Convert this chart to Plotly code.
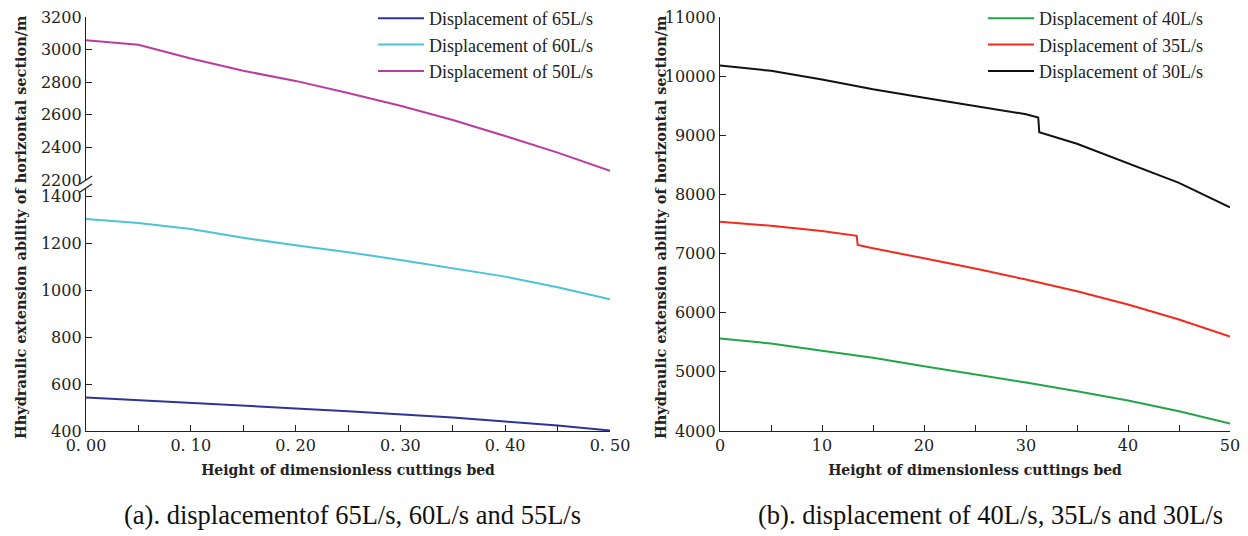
import plotly.graph_objects as go

# ---- data: panel (a) ----
x_left = [0, 0.05, 0.10, 0.15, 0.20, 0.25, 0.30, 0.35, 0.40, 0.45, 0.50]
d65 = [543, 532, 520, 508, 496, 484, 471, 457, 440, 423, 402]
d60 = [1302, 1285, 1260, 1222, 1190, 1161, 1128, 1093, 1057, 1012, 961]
d50 = [3058, 3030, 2945, 2870, 2808, 2734, 2655, 2568, 2470, 2368, 2257]

# ---- data: panel (b) ----
x40 = [0, 5, 10, 15, 20, 25, 30, 35, 40, 45, 50]
d40 = [5565, 5479, 5355, 5237, 5096, 4961, 4820, 4673, 4516, 4335, 4127]
x35 = [0, 5, 10, 13.4, 13.5, 15, 20, 25, 30, 35, 40, 45, 50]
d35 = [7540, 7470, 7380, 7300, 7145, 7090, 6920, 6748, 6560, 6362, 6138, 5885, 5595]
x30 = [0, 5, 10, 15, 20, 25, 30, 31.2, 31.3, 35, 40, 45, 50]
d30 = [10180, 10090, 9945, 9778, 9636, 9496, 9356, 9300, 9050, 8857, 8532, 8196, 7782]

left_ticks = [0, 0.1, 0.2, 0.3, 0.4, 0.5]
left_ticktext = ["0. 00", "0. 10", "0. 20", "0. 30", "0. 40", "0. 50"]
upper_ticks = [2200, 2400, 2600, 2800, 3000, 3200]
lower_ticks = [400, 600, 800, 1000, 1200, 1400]
right_yticks = [4000, 5000, 6000, 7000, 8000, 9000, 10000, 11000]
right_xticks = [0, 10, 20, 30, 40, 50]

xtitle = "Height of dimensionless cuttings bed"
ytitle = "Hhydraulic extension ability of horizontal section/m"
cap_a = "(a). displacementof 65L/s, 60L/s and 55L/s"
cap_b = "(b). displacement of 40L/s, 35L/s and 30L/s"

W, H = 1248, 536
def px(x): return x / W
def py(y): return 1 - y / H

TICKF = dict(family="DejaVu Serif", size=16, color="#222")
TITLEF = dict(family="DejaVu Serif", size=14, color="#222", weight="bold")
YTITLEF = dict(family="DejaVu Serif", size=14.5, color="#222", weight="bold")
LEGF = dict(family="Liberation Serif", size=18, color="#222")

fig = go.Figure()
lw = 2
fig.add_trace(go.Scatter(x=x_left, y=d65, mode="lines", name="Displacement of 65L/s",
                         line=dict(color="#2e3596", width=lw), xaxis="x", yaxis="y", legend="legend"))
fig.add_trace(go.Scatter(x=x_left, y=d60, mode="lines", name="Displacement of 60L/s",
                         line=dict(color="#4cc3d6", width=lw), xaxis="x", yaxis="y", legend="legend"))
fig.add_trace(go.Scatter(x=x_left, y=d50, mode="lines", name="Displacement of 50L/s",
                         line=dict(color="#bb3c9e", width=lw), xaxis="x", yaxis="y2", legend="legend"))
fig.add_trace(go.Scatter(x=x40, y=d40, mode="lines", name="Displacement of 40L/s",
                         line=dict(color="#23a547", width=lw), xaxis="x3", yaxis="y3", legend="legend2"))
fig.add_trace(go.Scatter(x=x35, y=d35, mode="lines", name="Displacement of 35L/s",
                         line=dict(color="#f52a1c", width=lw), xaxis="x3", yaxis="y3", legend="legend2"))
fig.add_trace(go.Scatter(x=x30, y=d30, mode="lines", name="Displacement of 30L/s",
                         line=dict(color="#111111", width=lw), xaxis="x3", yaxis="y3", legend="legend2"))

axis_common = dict(showline=True, linecolor="#222", linewidth=1.3, ticks="inside", ticklen=6,
                   tickcolor="#222", showgrid=False, zeroline=False, tickfont=TICKF,
                   automargin=False)

lx0, lx1 = px(86), px(610)
rx0, rx1 = px(720), px(1230)
low_top_px = 188
low_range_top = 1400 + (196 - low_top_px) / ((431 - 196) / 1000)

fig.update_layout(
    width=W, height=H, margin=dict(l=0, r=0, t=0, b=0, autoexpand=False),
    plot_bgcolor="white", paper_bgcolor="white",
    xaxis=dict(axis_common, domain=[lx0, lx1], range=[0, 0.5], anchor="y",
               tickvals=left_ticks, ticktext=left_ticktext,
               minor=dict(dtick=0.05, tick0=0, ticks="inside", ticklen=6, tickcolor="#222"),
               title=dict(text=xtitle, font=TITLEF, standoff=10)),
    yaxis=dict(axis_common, domain=[py(431), py(low_top_px)], range=[400, low_range_top],
               tickvals=lower_ticks, ticktext=[str(v) for v in lower_ticks], anchor="x"),
    yaxis2=dict(axis_common, domain=[py(180), py(17)], range=[2200, 3200],
                tickvals=upper_ticks, ticktext=[str(v) for v in upper_ticks], anchor="x"),
    xaxis3=dict(axis_common, domain=[rx0, rx1], range=[0, 50], anchor="y3",
                tickvals=right_xticks, ticktext=[str(v) for v in right_xticks],
                minor=dict(dtick=5, tick0=0, ticks="inside", ticklen=6, tickcolor="#222"),
                title=dict(text=xtitle, font=TITLEF, standoff=10)),
    yaxis3=dict(axis_common, domain=[py(431), py(17)], range=[4000, 11000],
                tickvals=right_yticks, ticktext=[str(v) for v in right_yticks], anchor="x3"),
    legend=dict(x=px(373), y=1.0, xanchor="left", yanchor="top", font=LEGF,
                bgcolor="rgba(0,0,0,0)", tracegroupgap=0, itemwidth=46),
    legend2=dict(x=px(983), y=1.0, xanchor="left", yanchor="top", font=LEGF,
                 bgcolor="rgba(0,0,0,0)", tracegroupgap=0, itemwidth=46),
    showlegend=True,
)

# y-axis titles
fig.add_annotation(text=ytitle, x=px(20), y=py(227), xref="paper", yref="paper",
                   xanchor="center", yanchor="middle",
                   textangle=-90, showarrow=False, font=YTITLEF)
fig.add_annotation(text=ytitle, x=px(660), y=py(227), xref="paper", yref="paper",
                   xanchor="center", yanchor="middle",
                   textangle=-90, showarrow=False, font=YTITLEF)
# captions
fig.add_annotation(text=cap_a, x=px(352), y=py(515), xref="paper", yref="paper",
                   xanchor="center", yanchor="middle",
                   showarrow=False, font=dict(family="Liberation Serif", size=26.5, color="#111"))
fig.add_annotation(text=cap_b, x=px(990), y=py(515), xref="paper", yref="paper",
                   xanchor="center", yanchor="middle",
                   showarrow=False, font=dict(family="Liberation Serif", size=26.5, color="#111"))

# axis break marks
for yb in (180, 188):
    fig.add_shape(type="line", xref="paper", yref="paper",
                  x0=px(80), y0=py(yb + 4), x1=px(92), y1=py(yb - 4),
                  line=dict(color="#222", width=1.3))

fig.write_html("out.html", config={"displayModeBar": False},
               post_script="document.body.style.margin='0px';document.body.style.overflow='hidden';")
